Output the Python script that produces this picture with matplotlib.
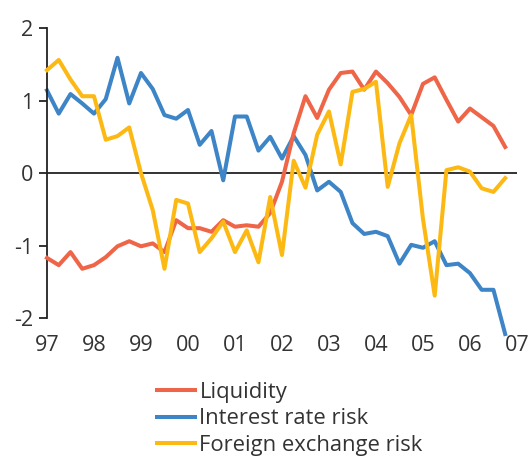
import matplotlib.pyplot as plt

plt.rcParams['font.family'] = ['Open Sans', 'DejaVu Sans']

# quarterly observations, 1997Q1 .. 2006Q4
quarters = [97 + i / 4 for i in range(40)]

liquidity = [-1.17, -1.27, -1.09, -1.32, -1.27, -1.16, -1.01, -0.94, -1.01, -0.97,
             -1.09, -0.65, -0.76, -0.76, -0.81, -0.65, -0.74, -0.72, -0.74, -0.55,
             -0.12, 0.55, 1.06, 0.76, 1.15, 1.38, 1.40, 1.15, 1.40, 1.24,
             1.05, 0.80, 1.23, 1.32, 1.01, 0.71, 0.89, 0.77, 0.65, 0.36]

interest_rate = [1.14, 0.82, 1.09, 0.96, 0.82, 1.02, 1.59, 0.96, 1.38, 1.16,
                 0.80, 0.75, 0.87, 0.39, 0.58, -0.10, 0.78, 0.78, 0.31, 0.50,
                 0.20, 0.51, 0.25, -0.24, -0.12, -0.26, -0.69, -0.84, -0.81, -0.87,
                 -1.25, -0.99, -1.03, -0.94, -1.27, -1.25, -1.38, -1.61, -1.61, -2.22]

fx_risk = [1.42, 1.56, 1.29, 1.06, 1.06, 0.46, 0.51, 0.63, 0.0, -0.51,
           -1.32, -0.37, -0.42, -1.09, -0.90, -0.67, -1.09, -0.79, -1.23, -0.33,
           -1.13, 0.17, -0.20, 0.53, 0.85, 0.12, 1.12, 1.16, 1.26, -0.19,
           0.41, 0.80, -0.63, -1.69, 0.04, 0.08, 0.02, -0.21, -0.26, -0.07]

year_ticks = list(range(97, 108))
year_labels = ['97', '98', '99', '00', '01', '02', '03', '04', '05', '06', '07']

fig = plt.figure(figsize=(5.31, 4.57), dpi=100)
ax = fig.add_axes([0.0885, 0.304, 0.885, 0.6346])

ax.axhline(0, color='#222222', lw=1.3, zorder=1)
ax.plot(quarters, liquidity, color='#EE6548', lw=2.9, label='Liquidity',
        zorder=3, clip_on=False)
ax.plot(quarters, interest_rate, color='#3D85C6', lw=2.9, label='Interest rate risk',
        zorder=2, clip_on=False)
ax.plot(quarters, fx_risk, color='#FDB913', lw=2.9, label='Foreign exchange risk',
        zorder=4, clip_on=False)

ax.set_xlim(97, 107)
ax.set_ylim(-2, 2)
ax.set_yticks([-2, -1, 0, 1, 2])
ax.set_yticklabels(['-2', '-1', '0', '1', '2'])
ax.set_xticks(year_ticks)
ax.set_xticklabels(year_labels)

for s in ['top', 'right', 'bottom']:
    ax.spines[s].set_visible(False)
ax.spines['left'].set_color('#222222')
ax.spines['left'].set_linewidth(1.3)
ax.tick_params(axis='y', length=6, width=1.3, color='#222222', labelsize=15.5,
               labelcolor='#333333', pad=4)
ax.tick_params(axis='x', length=0, labelsize=15.5, labelcolor='#333333', pad=12)

fig.legend(loc='upper left', bbox_to_anchor=(0.295, 0.164), frameon=False,
           fontsize=15.8, handlelength=1.75, handletextpad=0.2, labelspacing=0.24,
           borderaxespad=0, borderpad=0, labelcolor='#333333')

fig.savefig('out.png', dpi=100)
